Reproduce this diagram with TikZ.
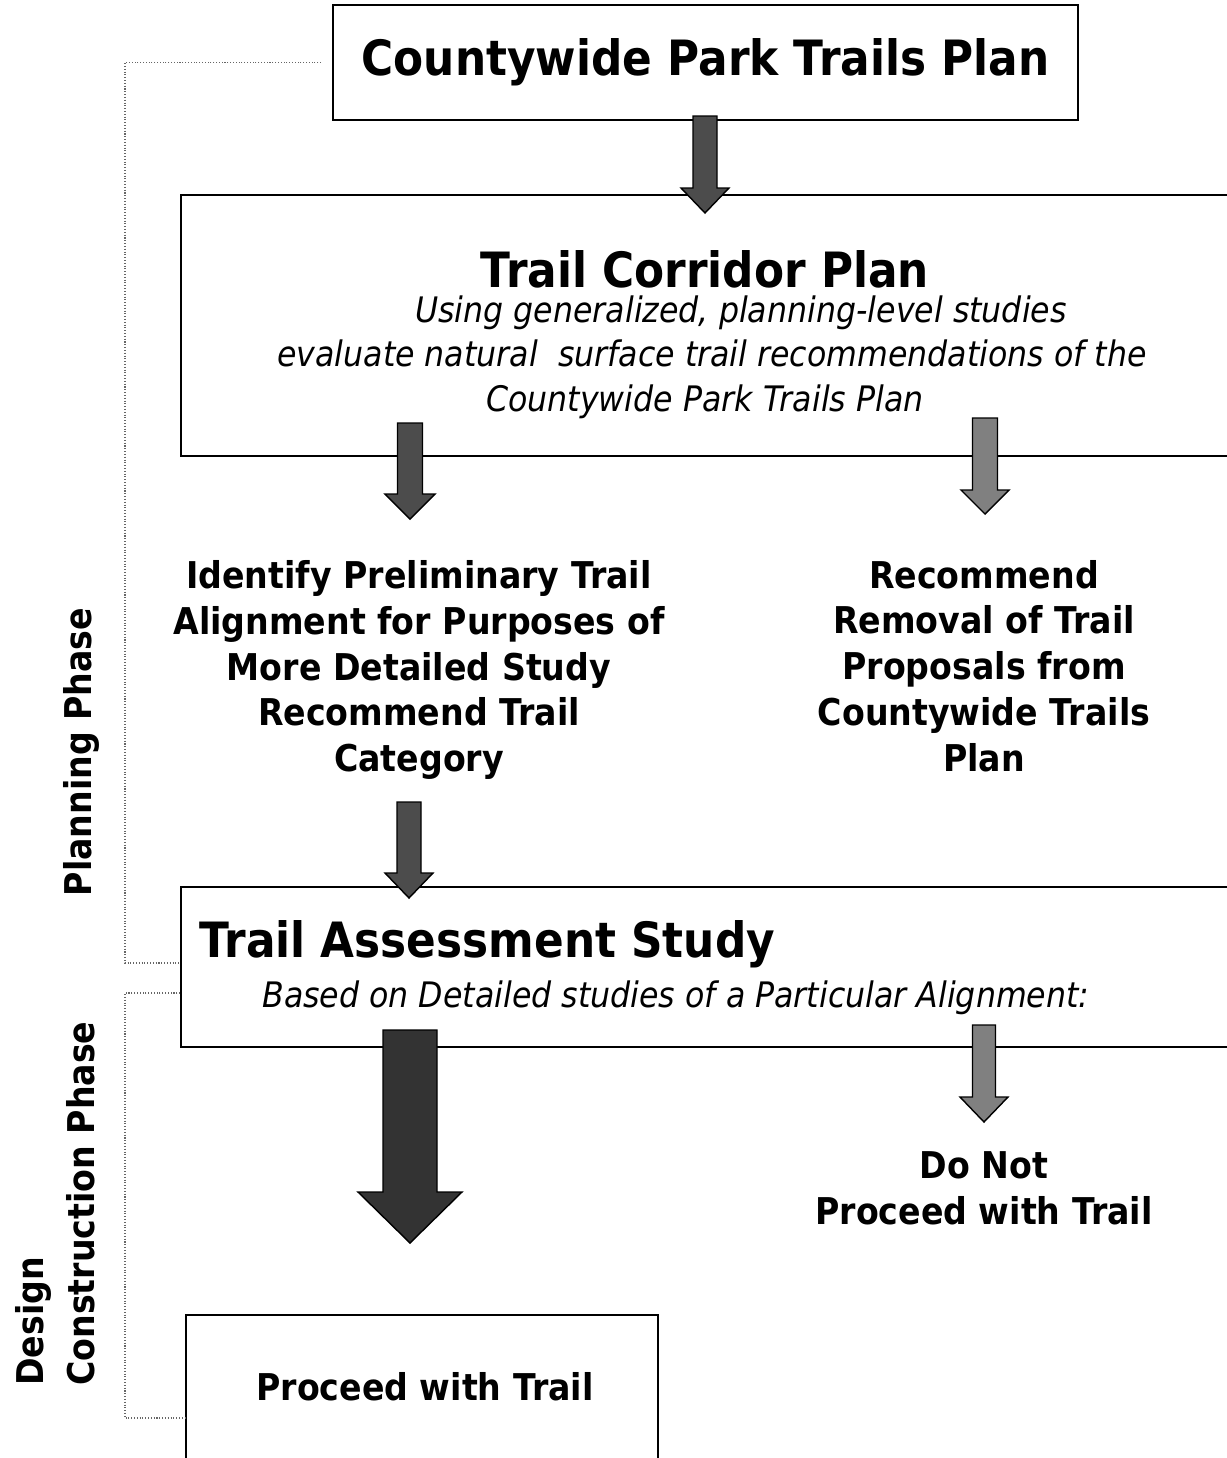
\documentclass[tikz,border=0pt]{standalone}
\usepackage{fontspec}
\setmainfont{DejaVu Sans}[FakeStretch=0.9]
% block arrow: fill, x, top, head start, tip, shaft half width, head half width
\newcommand{\blockarrow}[7]{\filldraw[fill=#1, draw=black, line width=0.8pt, line join=miter]
  (#2-#6,#3) -- (#2+#6,#3) -- (#2+#6,#4) -- (#2+#7,#4) -- (#2,#5) -- (#2-#7,#4) -- (#2-#6,#4) -- cycle;}

\begin{document}
\begin{tikzpicture}[x=0.02cm, y=-0.02cm,
    box/.style = {draw, line width=1.1pt, inner sep=0pt},
    title/.style = {font=\bfseries\fontsize{27.7}{33}\selectfont, inner sep=0pt},
    body/.style = {font=\bfseries\fontsize{21}{26.1}\selectfont, align=center, inner sep=0pt},
    note/.style = {font=\itshape\fontsize{20}{25.5}\selectfont, inner sep=0pt},
    phase/.style = {draw=black!60, densely dotted, line width=0.6pt}]
    \useasboundingbox (0,0) rectangle (1227,1458);
    \clip (0,0) rectangle (1227,1458);
    % boxes
    \node[box, title, minimum width=14.9cm, minimum height=2.3cm] (ctp) at (705.5,62.5) {Countywide Park Trails Plan};
    \node[box, minimum width=21.18cm, minimum height=5.22cm] (corridor) at (710.5,325.5) {};
    \node[box, minimum width=21.18cm, minimum height=3.2cm] (assess) at (710.5,967) {};
    \node[box, minimum width=9.44cm, minimum height=3.2cm] (proceed) at (422,1395) {};
    % texts
    \node[title, anchor=base] (tcp) at (705,287) {Trail Corridor Plan};
    \node[note, anchor=base] (tcp1) at (741,322) {Using generalized, planning-level studies};
    \node[note, anchor=base] (tcp2) at (712,366) {evaluate natural\ \ surface trail recommendations of the};
    \node[note, anchor=base] (tcp3) at (705,411) {Countywide Park Trails Plan};
    \node[body] (align) at (419,670) {Identify Preliminary Trail\\Alignment for Purposes of\\More Detailed Study\\Recommend Trail\\Category};
    \node[body] (remove) at (984,666) {Recommend\\Removal of Trail\\Proposals from\\Countywide Trails\\Plan};
    \node[title, anchor=base west] (tas) at (199,957) {Trail Assessment Study};
    \node[note, anchor=base west] (tas1) at (262,1007) {Based on Detailed studies of a Particular Alignment:};
    \node[body] (stop) at (984,1188) {Do Not\\Proceed with Trail};
    \node[body, anchor=base] (go) at (425,1400) {Proceed with Trail};
    % phases
    \node[body, rotate=90] (plan) at (81,752) {Planning Phase};
    \node[body, rotate=90, align=left, anchor=south west] (design) at (95,1386) {Design\\[2.5pt]Construction Phase};
    \draw[phase] ([shift={(-11,0)}]ctp.west) -| (125,963) -- (assess.west |- 0,963);
    \draw[phase] (assess.west |- 0,993) -| (125,1418) -- (proceed.west |- 0,1418);
    % arrows
    \blockarrow{black!70}{705}{116}{188}{213}{12}{24}
    \blockarrow{black!70}{410}{423}{494}{519}{12.5}{25}
    \blockarrow{black!50}{985}{418}{490}{514}{12.5}{24}
    \blockarrow{black!70}{409}{802}{873}{898}{12}{24}
    \blockarrow{black!80}{410}{1030}{1192}{1243}{27}{52}
    \blockarrow{black!50}{984}{1025}{1097}{1122}{11.5}{24}
\end{tikzpicture}
\end{document}
